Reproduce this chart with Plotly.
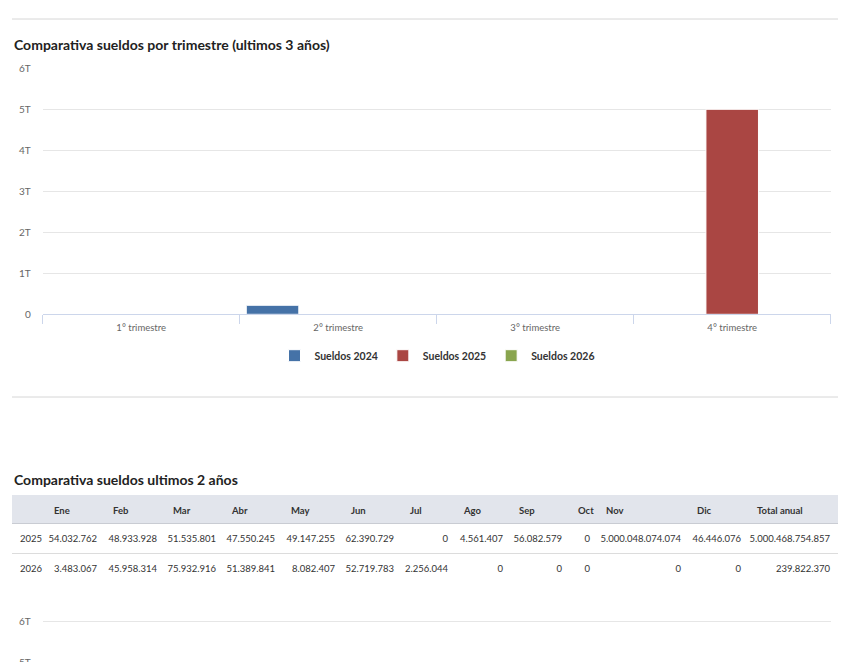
import plotly.graph_objects as go

W, H = 853, 662
OFF = 8  # margen del body de la pagina
FW, FH = W - OFF, H - OFF

trimestres = ['1° trimestre', '2° trimestre', '3° trimestre', '4° trimestre']
sueldos_2024 = [0, 220000000000, 0, 0]
sueldos_2025 = [154502491, 159088229, 60643986, 5000094520150]
sueldos_2026 = [125374297, 112192031, 2256044, 0]

meses = ['Ene', 'Feb', 'Mar', 'Abr', 'May', 'Jun', 'Jul', 'Ago', 'Sep', 'Oct', 'Nov', 'Dic']
anios = ['2025', '2026']
mes_2025 = [54032762, 48933928, 51535801, 47550245, 49147255, 62390729,
            0, 4561407, 56082579, 0, 5000048074074, 46446076]
mes_2026 = [3483067, 45958314, 75932916, 51389841, 8082407, 52719783,
            2256044, 0, 0, 0, 0, 0]
total_anual = [5000468754857, 239822370]

azul, rojo, verde = '#4572A7', '#AA4643', '#89A54E'
FONT = 'Lato'
TRANSP = 'rgba(0,0,0,0)'


def px_x(x):
    return (x - OFF) / FW


def px_y(y):
    return 1 - (y - OFF) / FH


def miles(v):
    return f"{v:,}".replace(",", ".")


fig = go.Figure()

# grafico trimestral
for nombre, vals, color in [('Sueldos 2024', sueldos_2024, azul),
                            ('Sueldos 2025', sueldos_2025, rojo),
                            ('Sueldos 2026', sueldos_2026, verde)]:
    fig.add_trace(go.Bar(x=trimestres, y=vals, name=nombre, marker_color=color,
                         marker_line=dict(color='white', width=1),
                         xaxis='x', yaxis='y'))

# tabla mensual (fondo de cabecera y separadores van como shapes)
header = [''] + meses + ['Total anual']
filas = [[anios[0]] + [miles(v) for v in mes_2025] + [miles(total_anual[0])],
         [anios[1]] + [miles(v) for v in mes_2026] + [miles(total_anual[1])]]
columnas = [list(c) for c in zip(*filas)]

fig.add_trace(go.Table(
    domain=dict(x=[px_x(12), px_x(838)], y=[px_y(610), px_y(499)]),
    columnwidth=[34, 59, 60, 59, 59, 60, 59, 54, 55, 59, 28, 91, 60, 89],
    header=dict(values=header, height=28, fill_color=TRANSP,
                line=dict(color=TRANSP, width=1),
                align='left',
                font=dict(family=FONT, size=9.5, color='#333333', weight='bold')),
    cells=dict(values=columnas, height=30, fill_color=TRANSP,
               line=dict(color=TRANSP, width=1),
               align=['left'] + ['right'] * 13,
               font=dict(family=FONT, size=9.5, color='#333333')),
))

# grafico mensual (solo se ve la parte superior)
for nombre, vals, color in [('2025', mes_2025, azul), ('2026', mes_2026, rojo)]:
    fig.add_trace(go.Bar(x=meses, y=vals, name=nombre, marker_color=color,
                         marker_line=dict(color='white', width=1),
                         showlegend=False, xaxis='x3', yaxis='y3'))

eje_y = dict(showgrid=True, gridcolor='#e6e6e6', gridwidth=1, zeroline=False,
             showline=False, dtick=1e12, tickformat='~s', ticks='',
             ticklabelstandoff=11,
             tickfont=dict(family=FONT, size=10, color='#666666'))
eje_x = dict(showgrid=False, zeroline=False, showline=True, linecolor='#ccd6eb',
             linewidth=1, ticks='outside', tickson='boundaries', ticklen=9,
             tickcolor='#ccd6eb', tickwidth=1, ticklabelstandoff=4,
             tickfont=dict(family=FONT, size=9.5, color='#666666'))

shapes = [dict(type='rect', xref='paper', yref='paper', layer='below',
               x0=px_x(12), x1=px_x(838), y0=px_y(523.5), y1=px_y(495),
               fillcolor='#e2e5ec', line=dict(width=0))]
for y, color in [(19, '#d6d6d6'), (397, '#d6d6d6'), (523.5, '#c9ccd3'), (553.5, '#dcdcdc')]:
    shapes.append(dict(type='line', xref='paper', yref='paper',
                       x0=px_x(12), x1=px_x(838), y0=px_y(y), y1=px_y(y),
                       line=dict(color=color, width=1), layer='above'))

fig.update_layout(
    template='none',
    width=FW, height=FH,
    margin=dict(l=0, r=0, t=0, b=0),
    paper_bgcolor='white', plot_bgcolor='rgba(0,0,0,0)',
    font=dict(family=FONT, color='#333333'),
    barmode='group', bargap=0, bargroupgap=0.2,
    xaxis=dict(eje_x, domain=[px_x(42.7), px_x(830.7)], anchor='y'),
    yaxis=dict(eje_y, domain=[px_y(314.3), px_y(68.3)], range=[0, 6e12], anchor='x'),
    xaxis3=dict(eje_x, domain=[px_x(42.7), px_x(830.7)], anchor='y3',
                showline=False, ticks='', showticklabels=False),
    yaxis3=dict(eje_y, domain=[0, px_y(600)], range=[5e12, 5e12 + 62 / 41 * 1e12],
                anchor='x3', ticklabeloverflow='allow'),
    showlegend=True,
    legend=dict(orientation='h', x=px_x(437), xanchor='center', y=px_y(355.7),
                yanchor='middle', bgcolor=TRANSP,
                font=dict(family=FONT, size=10.5, color='#333333', weight='bold')),
    shapes=shapes,
    annotations=[
        dict(text='Comparativa sueldos por trimestre (ultimos 3 años)',
             x=px_x(12), y=px_y(45), xref='paper', yref='paper',
             xanchor='left', yanchor='middle', showarrow=False,
             font=dict(family=FONT, size=14, color='#222222', weight='bold')),
        dict(text='Comparativa sueldos ultimos 2 años',
             x=px_x(12), y=px_y(479), xref='paper', yref='paper',
             xanchor='left', yanchor='middle', showarrow=False,
             font=dict(family=FONT, size=14, color='#222222', weight='bold')),
    ],
)

fig.write_html("out.html")
